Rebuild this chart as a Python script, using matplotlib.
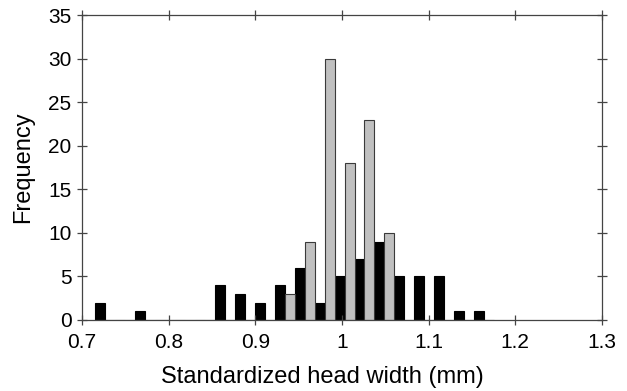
import matplotlib
matplotlib.use('Agg')
import matplotlib.pyplot as plt

plt.rcParams['font.family'] = ['Liberation Sans', 'DejaVu Sans']

# bin centres (boundary between the two bars of each bin)
bins = [0.727, 0.750, 0.773, 0.796, 0.819, 0.842, 0.865, 0.888, 0.911, 0.934,
        0.957, 0.980, 1.003, 1.026, 1.049, 1.072, 1.095, 1.118, 1.141, 1.164]
black_counts = [2, 0, 1, 0, 0, 0, 4, 3, 2, 4,
                6, 2, 5, 7, 9, 5, 5, 5, 1, 1]
gray_counts = [0, 0, 0, 0, 0, 0, 0, 0, 0, 3,
               9, 30, 18, 23, 10, 0, 0, 0, 0, 0]

w = 0.0115

fig = plt.figure(figsize=(6.27, 3.91), dpi=100)
ax = fig.add_axes([0.1308, 0.1816, 0.8292, 0.78])

ax.bar(bins, black_counts, width=-w, align='edge', color='black',
       edgecolor='black', linewidth=0.8)
ax.bar(bins, gray_counts, width=w, align='edge', color='#c0c0c0',
       edgecolor='#3a3a3a', linewidth=0.8)

ax.set_xlim(0.7, 1.3)
ax.set_ylim(0, 35)
ax.set_xticks([0.7, 0.8, 0.9, 1.0, 1.1, 1.2, 1.3])
ax.set_xticklabels(['0.7', '0.8', '0.9', '1', '1.1', '1.2', '1.3'])
ax.set_yticks([0, 5, 10, 15, 20, 25, 30, 35])

for s in ax.spines.values():
    s.set_color('#444444')
    s.set_linewidth(0.9)

ax.tick_params(axis='both', direction='inout', length=7, width=0.9,
               color='#444444', labelsize=15, top=True, right=True)
ax.tick_params(axis='x', pad=6)
ax.tick_params(axis='y', pad=4)

ax.set_xlabel('Standardized head width (mm)', fontsize=17, labelpad=10, x=0.4615)
ax.set_ylabel('Frequency', fontsize=17, labelpad=10)

plt.savefig('out.png', dpi=100)
plt.close()
